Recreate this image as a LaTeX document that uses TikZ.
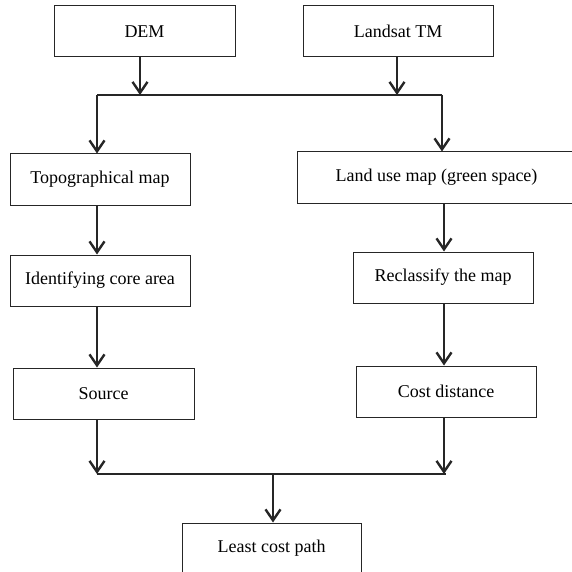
\documentclass[tikz,border=0pt]{standalone}
\usepackage{fontspec}
\setmainfont{Liberation Serif}
\usetikzlibrary{arrows.meta}
\begin{document}
\begin{tikzpicture}[x=1pt,y=-1pt,
  box/.style={draw=black!85, line width=1pt, inner sep=0pt, minimum height=51pt, font=\fontsize{18}{21}\selectfont},
  arr/.style={draw=black!85, line width=2.5pt, -{Straight Barb[length=11pt,width=15pt,line width=2.4pt]}},
  con/.style={draw=black!85, line width=1.3pt}]
\useasboundingbox (0,0) rectangle (571,572);
\node[box, minimum width=181pt] (dem) at (144.5,31.5) {DEM};
\node[box, minimum width=190pt] (lst) at (398,31.5) {Landsat TM};
\node[box, minimum width=180pt] (topo) at (100,179.5) {Topographical map};
\node[box, minimum width=279pt] (lu) at (436.5,177.5) {Land use map (green space)};
\node[box, minimum width=180pt] (ident) at (100,280.5) {Identifying core area};
\node[box, minimum width=181pt] (src) at (103.5,393.5) {Source};
\node[box, minimum width=180pt] (recl) at (443,277.5) {Reclassify the map};
\node[box, minimum width=180pt] (cost) at (446,391.5) {Cost distance};
\node[box, minimum width=179pt] (lcp) at (271.5,548.5) {Least cost path};
\coordinate (jl) at (97,95);
\coordinate (jr) at (442,95);
\coordinate (jd) at (140,95);
\coordinate (jt) at (397,95);
\coordinate (bl) at (97,474);
\coordinate (br) at (446,474);
\coordinate (bc) at (273,474);
\coordinate (rx) at (444,474);
\draw[con] (jl) -- (jr);
\draw[arr] (dem.south -| jd) -- (jd);
\draw[arr] (lst.south -| jt) -- (jt);
\draw[arr] (jl) -- (jl |- topo.north);
\draw[arr] (jr) -- (jr |- lu.north);
\draw[arr] (topo.south -| jl) -- (ident.north -| jl);
\draw[arr] (ident.south -| jl) -- (src.north -| jl);
\draw[arr] (lu.south -| rx) -- (recl.north -| rx);
\draw[arr] (recl.south -| rx) -- (cost.north -| rx);
\draw[con] (bl) -- (br);
\draw[arr] (src.south -| bl) -- (bl);
\draw[arr] (cost.south -| rx) -- (rx);
\draw[arr] (bc) -- (lcp.north -| bc);
\end{tikzpicture}
\end{document}
